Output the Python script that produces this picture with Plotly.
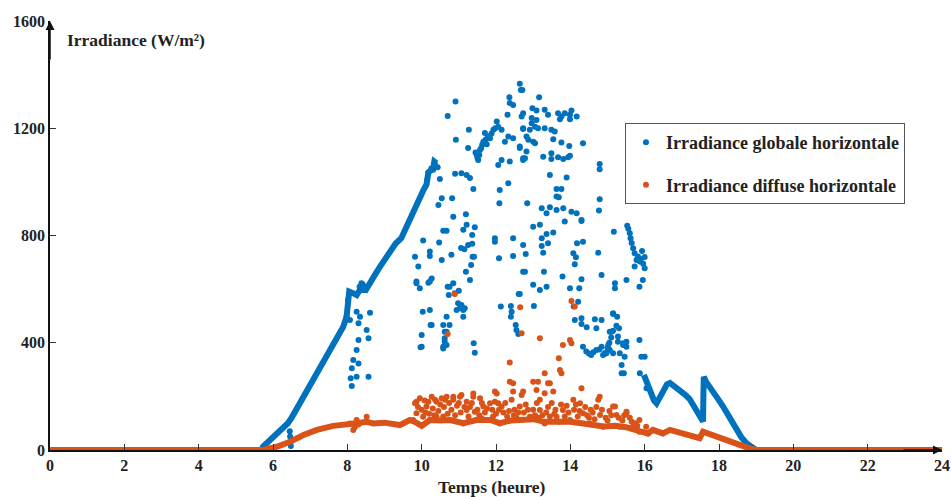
import plotly.graph_objects as go

# ---------------- data ----------------
x_ticks = [0, 2, 4, 6, 8, 10, 12, 14, 16, 18, 20, 22, 24]
y_ticks = [0, 400, 800, 1200, 1600]

# dense (continuous-looking) part of global irradiance: rise and fall
glob_rise = [(0, 0), (5.70, 0), (5.73, 12), (5.92, 37), (6.10, 60), (6.28, 81), (6.40, 100),
             (6.50, 120), (6.72, 174), (6.95, 230), (7.17, 286), (7.40, 345), (7.62, 398),
             (7.89, 460), (7.98, 497), (8.03, 560), (8.05, 591), (8.15, 585), (8.25, 578),
             (8.35, 600), (8.43, 609), (8.47, 590), (8.55, 612), (8.61, 622), (8.75, 655),
             (8.88, 684), (9.00, 710), (9.15, 746), (9.30, 770), (9.45, 790), (9.55, 821),
             (9.69, 862), (9.82, 902), (9.95, 951), (10.05, 970), (10.13, 990), (10.15, 1007),
             (10.18, 1035), (10.31, 1051), (10.34, 1076), (10.40, 1070)]
glob_fall = [(15.98, 280), (16.00, 273), (16.05, 261), (16.15, 215), (16.25, 185), (16.32, 174),
             (16.40, 195), (16.50, 225), (16.60, 245), (16.68, 250), (16.78, 240), (16.90, 222),
             (17.00, 215), (17.10, 205), (17.21, 190), (17.35, 160), (17.49, 124), (17.57, 106),
             (17.58, 200), (17.59, 273), (17.65, 255), (17.76, 230), (17.90, 200), (18.00, 185),
             (18.11, 162), (18.30, 115), (18.47, 75), (18.60, 48), (18.74, 25), (18.91, 6),
             (19.00, 0), (24, 0)]

# scattered points of global irradiance
glob_pts = [
    (6.45, 70), (6.46, 50), (6.47, 30), (6.48, 15),
    (8.02, 560), (7.98, 497), (8.07, 485), (8.25, 516), (8.34, 497), (8.61, 512), (8.30, 473),
    (8.52, 448), (8.57, 417), (8.30, 410), (8.25, 373), (8.16, 336), (8.30, 323), (8.12, 305),
    (8.25, 273), (8.09, 268), (8.12, 239), (8.57, 273), (8.38, 622), (8.43, 597), (8.33, 609),
    (9.82, 721), (9.91, 684), (9.86, 622), (9.95, 603), (10.22, 628), (10.27, 640), (10.03, 516),
    (10.22, 522), (10.27, 466), (10.00, 429), (9.97, 383), (10.58, 466), (10.75, 466), (10.67, 441),
    (10.62, 417), (10.58, 379), (10.67, 392), (10.75, 609), (10.85, 622), (10.89, 585), (10.98, 547),
    (11.03, 529), (11.12, 522), (11.07, 541), (11.16, 529), (10.94, 522), (11.12, 497), (11.40, 398),
    (11.43, 363), (11.30, 634), (11.19, 665), (11.37, 721), (10.80, 728), (10.54, 709), (10.22, 740),
    (10.22, 724), (10.04, 781), (10.47, 774), (10.58, 818), (10.67, 818), (11.12, 821), (11.21, 840),
    (11.43, 831), (11.36, 802), (11.06, 753), (11.15, 749), (11.25, 765), (11.36, 769), (11.41, 721),
    (11.33, 690), (10.70, 609), (10.73, 578), (11.00, 594), (10.67, 497), (10.24, 466), (10.62, 441),
    (10.58, 385), (10.62, 404), (10.00, 385), (10.18, 624), (9.86, 628),
    (10.91, 1300), (10.70, 1246), (10.92, 1157), (11.27, 1194), (11.25, 1126), (11.48, 1101),
    (11.57, 1119), (11.52, 1082), (11.63, 1138), (11.70, 1182), (11.72, 1157), (11.84, 1163),
    (11.93, 1194), (12.02, 1225), (12.06, 1206), (12.15, 1194), (12.24, 1150), (12.33, 1169),
    (12.46, 1163), (12.31, 1250), (12.37, 1294), (12.36, 1316), (12.46, 1287), (12.64, 1366),
    (12.67, 1343), (12.64, 1132), (12.73, 1088), (10.43, 1055), (10.18, 1035), (10.31, 1045),
    (10.15, 1007), (10.49, 1011), (10.90, 1030), (11.07, 1032), (11.21, 1026), (11.30, 1014),
    (11.39, 973), (10.54, 939), (10.82, 939), (10.45, 914), (10.85, 870), (11.19, 879), (12.10, 970),
    (12.33, 995), (12.09, 920), (12.06, 1063), (12.15, 1082), (12.37, 1076), (12.73, 1256),
    (12.73, 1200), (11.45, 1110), (11.55, 1100), (11.60, 1125), (11.66, 1150), (11.78, 1170),
    (11.88, 1180), (11.98, 1200), (11.75, 1140), (11.50, 1090), (10.36, 1065), (10.26, 1050),
    (12.71, 1343), (13.16, 1316), (12.98, 1275), (13.09, 1266), (13.31, 1269), (13.40, 1250),
    (13.67, 1256), (13.76, 1244), (13.85, 1256), (13.99, 1250), (14.03, 1266), (14.17, 1244),
    (13.72, 1234), (13.99, 1234), (12.69, 1244), (12.96, 1238), (13.09, 1231), (12.96, 1219),
    (13.05, 1206), (12.73, 1197), (12.91, 1194), (13.13, 1200), (13.31, 1200), (13.49, 1194),
    (13.58, 1188), (12.82, 1169), (12.87, 1157), (13.00, 1150), (13.05, 1144), (13.54, 1159),
    (13.76, 1147), (13.97, 1134), (14.34, 1144), (12.64, 1126), (12.82, 1113), (12.78, 1088),
    (12.73, 1082), (13.27, 1094), (13.49, 1107), (13.49, 1085), (13.67, 1092), (13.81, 1085),
    (13.94, 1092), (13.99, 1097), (14.79, 1067), (14.79, 1047), (13.45, 1026), (13.90, 1016),
    (13.63, 973), (13.76, 973), (13.63, 945), (13.69, 943), (12.84, 920), (13.23, 902), (13.45, 905),
    (13.63, 895), (13.81, 902), (14.03, 889), (14.17, 883), (14.30, 858), (13.36, 883), (14.79, 935),
    (14.77, 893),
    (11.97, 790), (11.97, 777), (12.46, 790), (12.73, 765), (12.08, 715), (12.46, 724), (12.73, 665),
    (12.61, 582), (12.13, 535), (12.40, 537), (12.42, 516), (12.40, 497), (12.53, 466), (12.55, 448),
    (12.60, 433),
    (13.00, 833), (13.18, 840), (13.85, 852), (14.30, 854), (13.36, 806), (13.54, 811), (13.23, 790),
    (13.40, 771), (13.23, 761), (13.27, 736), (12.80, 731), (14.18, 771), (14.34, 777), (14.08, 734),
    (14.15, 719), (14.12, 693), (14.75, 736), (15.17, 814),
    (15.53, 836), (15.56, 825), (15.60, 808), (15.62, 790), (15.65, 772), (15.69, 752), (15.73, 734),
    (15.78, 709), (15.87, 703), (16.00, 678), (15.73, 684), (15.95, 634), (15.86, 609), (15.51, 634),
    (15.20, 622), (15.20, 603), (15.82, 722), (15.90, 712), (15.96, 695), (16.00, 720), (15.93, 742),
    (12.78, 665), (13.29, 665), (13.79, 647), (14.30, 637), (14.84, 653), (13.00, 616), (13.18, 597),
    (13.36, 609), (13.99, 603), (14.24, 603), (12.64, 582), (14.09, 535), (14.21, 553), (13.02, 537),
    (14.12, 485), (14.30, 491), (14.30, 470), (14.66, 488), (14.84, 485), (14.70, 454), (14.44, 458),
    (15.15, 507), (15.26, 497), (15.24, 463), (15.31, 454), (15.11, 441), (15.28, 423),
    (14.34, 385), (14.43, 367), (14.56, 354), (14.70, 373), (14.84, 385), (14.88, 354), (15.02, 392),
    (15.06, 373), (15.15, 361), (15.28, 404), (15.33, 361), (15.42, 392), (15.51, 385), (15.51, 404),
    (15.38, 317), (15.38, 286), (15.87, 286), (16.00, 348), (15.15, 510), (15.06, 441), (14.97, 361),
    (15.42, 398), (15.46, 348), (15.44, 286), (15.86, 410), (15.91, 348), (16.05, 230),
    (14.95, 360), (15.00, 380), (15.05, 400), (15.10, 420), (15.15, 445),
    (14.50, 360), (14.62, 365), (14.78, 375), (14.93, 362),
]

# dense lower part of diffuse irradiance
diff_curve = [(0, 0), (5.74, 0), (6.10, 12), (6.46, 31), (6.82, 56), (7.18, 75), (7.62, 90),
              (7.98, 93), (8.07, 95), (8.25, 100), (8.52, 105), (8.70, 99), (9.00, 102),
              (9.15, 99), (9.41, 93), (9.68, 112), (9.82, 105), (10.00, 90), (10.22, 112),
              (10.50, 110), (10.76, 112), (11.12, 100), (11.48, 112), (11.84, 112), (12.10, 100),
              (12.40, 110), (12.70, 112), (13.00, 115), (13.30, 105), (13.70, 108), (14.00, 105),
              (14.30, 100), (14.60, 95), (14.90, 88), (15.20, 90), (15.50, 85), (15.86, 70),
              (16.09, 62), (16.22, 75), (16.49, 62), (16.68, 75), (16.86, 68), (17.21, 50),
              (17.48, 44), (17.57, 68), (17.84, 56), (18.20, 37), (18.56, 19), (18.82, 6),
              (19.00, 0), (24, 0)]

# scattered points of diffuse irradiance
diff_pts = [
    (8.07, 99), (8.16, 75), (8.25, 112), (8.52, 124), (8.20, 85), (8.30, 95),
    (10.89, 582), (10.70, 433), (12.65, 532), (12.69, 435), (13.18, 417), (14.03, 556), (14.12, 535),
    (12.37, 326), (12.37, 255), (12.46, 249), (11.97, 218), (12.46, 218), (13.99, 410), (13.80, 392),
    (14.03, 398), (13.69, 342), (13.72, 298), (13.76, 286), (13.31, 286), (13.00, 255), (13.13, 255),
    (13.40, 249), (13.45, 249), (12.73, 218), (13.09, 224), (13.31, 212), (13.54, 218), (14.30, 230),
    (14.79, 199),
    (9.82, 174), (9.95, 193), (10.13, 162), (10.27, 199), (10.40, 180), (10.54, 193), (10.67, 199),
    (10.85, 187), (11.03, 199), (11.21, 180), (11.39, 199), (11.57, 193), (11.66, 162), (11.84, 174),
    (12.02, 211), (12.06, 174), (9.86, 180), (10.18, 180), (10.36, 187), (10.63, 187), (10.85, 199),
    (11.07, 205), (11.39, 211), (11.21, 149), (11.43, 143), (11.61, 118), (11.97, 180), (12.15, 162),
    (12.42, 187), (12.69, 205), (12.64, 162),
    (9.77, 112), (9.86, 137), (10.04, 124), (10.22, 112), (10.40, 124), (10.76, 112), (11.12, 99),
    (11.48, 112), (11.84, 112), (12.10, 99),
    (10.00, 150), (10.10, 140), (10.30, 155), (10.45, 145), (10.60, 160), (10.70, 135), (10.80, 150),
    (10.95, 165), (11.05, 140), (11.30, 160), (11.50, 150), (11.70, 140), (11.90, 150), (12.00, 135),
    (12.20, 140), (12.30, 125), (12.50, 150), (12.55, 120),
    (12.91, 124), (13.18, 187), (13.18, 149), (13.31, 99), (13.63, 124), (13.80, 149), (13.99, 112),
    (14.08, 187), (14.26, 174), (14.34, 137), (14.52, 99), (14.75, 187), (14.80, 131), (14.88, 87),
    (15.20, 162), (15.24, 131), (15.33, 87), (15.51, 143), (15.69, 87), (15.86, 68), (16.09, 62),
    (15.15, 162), (15.51, 137), (15.86, 112), (16.04, 87),
    (12.80, 170), (13.00, 150), (13.10, 175), (13.40, 160), (13.50, 175), (13.60, 150), (13.90, 165),
    (14.10, 150), (14.20, 125), (14.40, 160), (14.60, 140), (14.70, 160), (14.95, 120), (15.05, 145),
    (15.40, 110), (15.60, 120), (15.75, 100), (13.25, 130), (13.70, 105), (12.60, 140), (14.50, 120),
    (9.90, 160), (10.08, 185), (10.20, 135), (10.34, 130), (10.50, 170), (10.58, 125), (10.74, 175),
    (10.90, 130), (11.00, 175), (11.15, 160), (11.26, 125), (11.35, 175), (11.55, 130), (11.62, 175),
    (11.76, 155), (11.92, 125), (12.08, 150), (12.25, 175), (12.35, 145), (12.48, 130), (12.75, 140),
    (12.86, 150), (13.05, 130), (13.15, 120), (13.35, 140), (13.45, 125), (13.57, 135), (13.75, 170),
    (13.85, 125), (13.95, 140), (14.15, 170), (14.25, 145), (14.45, 130), (14.55, 150), (14.65, 115),
    (14.85, 150), (15.00, 110), (15.10, 130), (15.30, 120), (15.45, 130), (15.65, 105), (15.80, 90),
]

BLUE = "#0072BD"
ORANGE = "#D95319"
FONT = "Liberation Serif"
TXT = "#222222"


def unzip(pairs):
    return [p[0] for p in pairs], [p[1] for p in pairs]


fig = go.Figure()

for seg in (glob_rise, glob_fall):
    t, v = unzip(seg)
    fig.add_trace(go.Scatter(x=t, y=v, mode="lines", line=dict(color=BLUE, width=6),
                             showlegend=False, hoverinfo="skip", cliponaxis=False))
t, v = unzip(glob_pts)
fig.add_trace(go.Scatter(x=t, y=v, mode="markers", name="Irradiance globale horizontale",
                         marker=dict(color=BLUE, size=6), cliponaxis=False,
                         legendgroup="g", legendrank=1))

t, v = unzip(diff_curve)
fig.add_trace(go.Scatter(x=t, y=v, mode="lines", line=dict(color=ORANGE, width=6),
                         showlegend=False, hoverinfo="skip", cliponaxis=False))
t, v = unzip(diff_pts)
fig.add_trace(go.Scatter(x=t, y=v, mode="markers", name="Irradiance diffuse horizontale",
                         marker=dict(color=ORANGE, size=6), cliponaxis=False,
                         legendgroup="d", legendrank=2))

axis_common = dict(showgrid=False, zeroline=False, showline=True, linecolor="#111111",
                   linewidth=1.5, ticks="inside", tickcolor="#333333", tickwidth=1,
                   tickfont=dict(family=FONT, size=16, color=TXT, weight="bold"),
                   layer="above traces")

fig.update_xaxes(range=[0, 24], tickvals=x_ticks, ticklen=6, **axis_common)
fig.update_yaxes(range=[0, 1600], tickvals=y_ticks, ticklen=6, **axis_common)

fig.add_annotation(x=0, y=1600, xref="x", yref="y", ax=0, ay=40, axref="pixel", ayref="pixel",
                   showarrow=True, arrowhead=2, arrowsize=1.2, arrowwidth=1.5, arrowcolor="#111111",
                   text="")
fig.add_annotation(x=24, y=0, xref="x", yref="y", ax=-40, ay=0, axref="pixel", ayref="pixel",
                   showarrow=True, arrowhead=2, arrowsize=1.2, arrowwidth=1.5, arrowcolor="#111111",
                   text="")

fig.add_annotation(x=0.017, y=0.956, xref="paper", yref="paper", xanchor="left", yanchor="middle",
                   text="<b>Irradiance (W/m²)</b>", showarrow=False,
                   font=dict(family=FONT, size=17.5, color=TXT))
fig.add_annotation(x=0.496, y=-0.086, xref="paper", yref="paper", xanchor="center", yanchor="middle",
                   text="<b>Temps (heure)</b>", showarrow=False,
                   font=dict(family=FONT, size=17.5, color=TXT))

fig.update_layout(
    width=951, height=497,
    margin=dict(l=50, r=9, t=21, b=47, autoexpand=False),
    plot_bgcolor="white", paper_bgcolor="white",
    font=dict(family=FONT, color=TXT),
    showlegend=True,
    legend=dict(x=0.9585, y=0.762, xanchor="right", yanchor="top",
                bgcolor="white", bordercolor="#555555", borderwidth=1,
                font=dict(family=FONT, size=18, color=TXT, weight="bold"),
                traceorder="grouped", tracegroupgap=16, itemsizing="trace"),
)

# remove the browser's default 8px body margin so the figure fills the window exactly
fig.write_html("out.html",
               config={"displayModeBar": False},
               post_script="document.body.style.margin='0';document.body.style.overflow='hidden';")
